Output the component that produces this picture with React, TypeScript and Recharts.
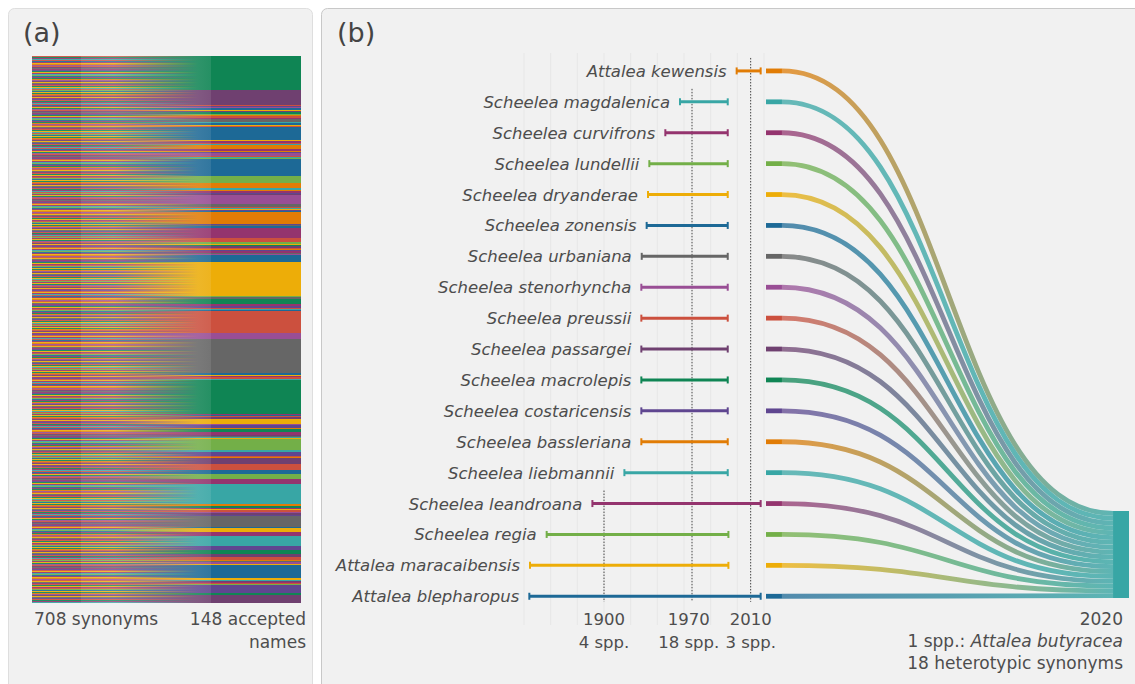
import React from 'react';
import {
  ComposedChart,
  Scatter,
  XAxis,
  YAxis,
  ReferenceLine,
  ReferenceArea,
  LineChart,
  Line,
  Sankey,
} from 'recharts';

const FONT = "'DejaVu Sans', Verdana, sans-serif";
const TEXT = '#4d4d4d';

// CARTOColors "Prism" palette
const PRISM: Record<string, string> = {
  I: '#5F4690', B: '#1D6996', T: '#38A6A5', G: '#0F8554', L: '#73AF48', Y: '#EDAD08',
  O: '#E17C05', R: '#CC503E', M: '#94346E', P: '#6F4070', V: '#994E95', K: '#666666',
};
const PALETTE_KEYS = Object.keys(PRISM);

// ---------- Panel (a): 708 synonyms -> 148 accepted names ----------
const acceptedColorKeys = [
  'G', 'P',
  'R', 'I', 'V', 'B', 'Y', 'P', 'G', 'L', 'R', 'O', 'R', 'M', 'K', 'T', 'B', 'Y', 'R',
  'B',
  'Y', 'M', 'G', 'R', 'T',
  'O',
  'M', 'O', 'I', 'V', 'R', 'T', 'L',
  'B', 'L', 'O',
  'T', 'G', 'O', 'M', 'I', 'P',
  'V',
  'K', 'R', 'T', 'Y', 'I', 'B',
  'O',
  'I', 'K', 'B',
  'M', 'R',
  'L', 'Y', 'G', 'P', 'R', 'O', 'I', 'M', 'K', 'V', 'B',
  'B', 'Y',
  'L', 'K', 'P', 'G', 'M', 'Y', 'I', 'R', 'T', 'B',
  'R', 'V', 'K',
  'B', 'Y', 'M', 'V', 'R', 'T',
  'G',
  'M', 'B', 'R', 'P',
  'Y',
  'V', 'I', 'R', 'O', 'G', 'M', 'P', 'K', 'T', 'Y',
  'L', 'T', 'I', 'R', 'O', 'P', 'R', 'B', 'L', 'M', 'T',
  'O', 'G', 'M', 'Y', 'R', 'V', 'P', 'I', 'L',
  'K', 'B', 'Y', 'M', 'T',
  'I', 'G', 'P', 'M', 'R', 'O', 'K', 'V', 'Y', 'B',
  'B',
  'Y', 'T', 'P', 'M', 'R', 'L',
  'I', 'G', 'P',
];
const acceptedCounts = [
  44, 19,
  2, 1, 1, 3, 1, 2, 2, 1, 1, 1, 2, 2, 3, 2, 2, 1, 2,
  17,
  1, 2, 1, 1, 1,
  5,
  3, 1, 2, 3, 2, 1, 1,
  22, 10, 6,
  2, 1, 1, 2, 1, 2,
  12,
  3, 2, 1, 1, 2, 1,
  16,
  1, 1, 2,
  13, 6,
  2, 1, 2, 3, 1, 1, 2, 2, 1, 1, 3,
  6, 44,
  2, 2, 1, 6, 2, 1, 2, 2, 1, 1,
  28, 8, 44,
  3, 1, 1, 1, 2, 2,
  43,
  2, 1, 1, 3,
  6,
  2, 3, 1, 1, 4, 3, 2, 1, 1, 2,
  14, 2, 6, 1, 1, 8, 8, 5, 7, 6, 26,
  2, 3, 1, 1, 3, 2, 2, 1, 1,
  13, 2, 5, 5, 13,
  5, 5, 4, 1, 3, 1, 2, 3, 1, 3,
  14,
  2, 2, 1, 1, 1, 2,
  10, 3, 10,
];
// colour cycle used for the synonym nodes (style only)
const synonymColorCycle = ['R', 'G', 'Y', 'M', 'T', 'R', 'L', 'B', 'M', 'Y', 'G', 'O', 'V', 'R', 'P', 'Y', 'K', 'M', 'I'];
const synonymsLabel = '708 synonyms';
const acceptedLabel = ['148 accepted', 'names'];

// ---------- Panel (b): Attalea butyracea ----------
const speciesNames = [
  'Attalea kewensis', 'Scheelea magdalenica', 'Scheelea curvifrons', 'Scheelea lundellii',
  'Scheelea dryanderae', 'Scheelea zonensis', 'Scheelea urbaniana', 'Scheelea stenorhyncha',
  'Scheelea preussii', 'Scheelea passargei', 'Scheelea macrolepis', 'Scheelea costaricensis',
  'Scheelea bassleriana', 'Scheelea liebmannii', 'Scheelea leandroana', 'Scheelea regia',
  'Attalea maracaibensis', 'Attalea blepharopus',
];
const speciesColorKeys = ['O', 'T', 'M', 'L', 'Y', 'B', 'K', 'V', 'R', 'P', 'G', 'I', 'O', 'T', 'M', 'L', 'Y', 'B'];
const describedYear = [1999.5, 1957, 1946, 1934, 1933, 1932, 1928.3, 1928, 1928, 1928, 1928, 1928, 1928, 1915.3, 1891.3, 1857, 1844.5, 1844];
const synonymizedYear = [2017.5, 1992.8, 1992.8, 1992.8, 1992.8, 1992.8, 1992.8, 1992.8, 1992.8, 1992.8, 1992.8, 1992.8, 1992.8, 1992.8, 2017.5, 1993.3, 1993.3, 2017.5];
const gridYears = [1840, 1860, 1880, 1900, 1920, 1940, 1960, 1980, 2000, 2020];
const markerYears = [1900, 1966, 2010];
const markerLabelYears = [1900, 1963.5, 2010];
const markerLabels = ['1900', '1970', '2010'];
const markerCounts = ['4 spp.', '18 spp.', '3 spp.'];
const targetKey = 'T';
const targetYearLabel = '2020';
const targetName = 'Attalea butyracea';
const targetCountPrefix = '1 spp.: ';
const targetSynonymsLabel = '18 heterotypic synonyms';

// ---------- layout constants ----------
const ROW_DOMAIN: [number, number] = [-0.58, 17.93];
const BAND_TOP = 14.24; // destination band (row units)
const BAND_BOTTOM = 17.06;
const NODE_END = 0.044;
const TARGET_START = 0.956;
const SYN_W = 49;
const ACC_W = 90;
const LABEL_SIZE = 17;
const TICK_SIZE = 16.5;

// ---------- build sankey data ----------
const totalSyn = acceptedCounts.reduce((a, b) => a + b, 0);
const sankeyNodes: any[] = [];
const sankeyLinks: any[] = [];
{
  let s = 0;
  acceptedCounts.forEach((cnt, k) => {
    for (let j = 0; j < cnt; j++) {
      const sk = synonymColorCycle[s % synonymColorCycle.length];
      sankeyNodes.push({ name: `syn-${s}`, side: 'syn', ck: sk });
      sankeyLinks.push({ source: s, target: totalSyn + k, value: 1, sk, tk: acceptedColorKeys[k] });
      s++;
    }
  });
  acceptedColorKeys.forEach((ck, k) => sankeyNodes.push({ name: `acc-${k}`, side: 'acc', ck }));
}

const SankeyNode = (props: any) => {
  const { x, y, width, height, payload } = props;
  const fill = PRISM[payload.ck];
  if (payload.side === 'syn') {
    return <rect x={x} y={y} width={width} height={height} fill={fill} fillOpacity={0.92} shapeRendering="crispEdges" />;
  }
  return <rect x={x + width - ACC_W} y={y} width={ACC_W} height={height} fill={fill} shapeRendering="crispEdges" />;
};

const SankeyLink = (props: any) => {
  const { sourceX, targetX, sourceY, targetY, linkWidth, payload } = props;
  const tx = targetX - (ACC_W - SYN_W);
  const h = linkWidth / 2;
  const mx = (sourceX + tx) / 2;
  const d = `M${sourceX},${sourceY - h}C${mx},${sourceY - h} ${mx},${targetY - h} ${tx},${targetY - h}L${tx},${targetY + h}C${mx},${targetY + h} ${mx},${sourceY + h} ${sourceX},${sourceY + h}Z`;
  return <path d={d} fill={`url(#lg-${payload.sk}-${payload.tk})`} stroke="none" shapeRendering="crispEdges" />;
};

// ---------- panel (b) helpers ----------
const speciesRows = speciesNames.map((name, r) => {
  const color = PRISM[speciesColorKeys[r]];
  return {
    name,
    color,
    r,
    data: [
      { year: describedYear[r], row: r, side: 'start', name, color },
      { year: synonymizedYear[r], row: r, side: 'end', name, color },
    ],
  };
});

const markerTopRow = markerYears.map((yr) => {
  const idx = speciesRows.findIndex((s, r) => describedYear[r] <= yr && synonymizedYear[r] >= yr);
  return idx - 0.42;
});

const RangeEnd = (props: any) => {
  const { cx, cy, payload } = props;
  if (cx == null || cy == null) return null;
  return (
    <g>
      <line x1={cx} x2={cx} y1={cy - 3.5} y2={cy + 3.5} stroke={payload.color} strokeWidth={2} />
      {payload.side === 'start' && (
        <text x={cx - 10} y={cy + 6} textAnchor="end" fontFamily={FONT} fontSize={16.5} fontStyle="italic" fill={TEXT}>
          {payload.name}
        </text>
      )}
    </g>
  );
};

const TimeTick = (props: any) => {
  const { x, y, payload } = props;
  const i = markerLabelYears.indexOf(payload.value);
  return (
    <text x={x} y={y} textAnchor="middle" fontFamily={FONT} fontSize={TICK_SIZE} fill={TEXT}>
      <tspan x={x} dy={0}>{markerLabels[i]}</tspan>
      <tspan x={x} dy={23}>{markerCounts[i]}</tspan>
    </text>
  );
};

const EndTick = (props: any) => {
  const { x, y } = props;
  const tx = x - 6;
  return (
    <text textAnchor="end" fontFamily={FONT} fontSize={LABEL_SIZE} fill={TEXT}>
      <tspan x={tx} y={y}>{targetYearLabel}</tspan>
      <tspan x={tx} y={y + 22}>
        {targetCountPrefix}
        <tspan fontStyle="italic">{targetName}</tspan>
      </tspan>
      <tspan x={tx} y={y + 44}>{targetSynonymsLabel}</tspan>
    </text>
  );
};

const FLOW_W = 395;
const FLOW_H = 684;
const FLOW_M = { top: 53, right: 6, bottom: 9, left: 26 };
const flowPlotW = FLOW_W - FLOW_M.left - FLOW_M.right;

const linkWidthRows = (BAND_BOTTOM - BAND_TOP) / speciesNames.length;

export default function App() {
  const linkGradients: React.ReactNode[] = [];
  PALETTE_KEYS.forEach((a) =>
    PALETTE_KEYS.forEach((b) =>
      linkGradients.push(
        <linearGradient key={`${a}-${b}`} id={`lg-${a}-${b}`} x1="0" x2="1" y1="0" y2="0">
          <stop offset="0" stopColor={PRISM[a]} stopOpacity={0.82} />
          <stop offset="0.25" stopColor={PRISM[a]} stopOpacity={0.78} />
          <stop offset="0.9" stopColor={PRISM[b]} stopOpacity={0.86} />
          <stop offset="1" stopColor={PRISM[b]} stopOpacity={0.9} />
        </linearGradient>
      )
    )
  );

  return (
    <div style={{ position: 'absolute', left: 0, top: 0, width: 1135, height: 684, background: '#ffffff', overflow: 'hidden' }}>
      <svg width={1135} height={684} style={{ position: 'absolute', left: 0, top: 0 }}>
        <defs>{linkGradients}</defs>
        <rect x={8.5} y={8.5} width={304} height={700} rx={6} fill="#f1f1f1" stroke="#dedede" />
        <rect x={321.5} y={8.5} width={840} height={700} rx={6} fill="#f1f1f1" stroke="#c8c8c8" />
        <text x={23} y={42} fontFamily={FONT} fontSize={27} fill="#444">(a)</text>
        <text x={337} y={42} fontFamily={FONT} fontSize={27} fill="#444">(b)</text>
        <text x={34} y={625} fontFamily={FONT} fontSize={LABEL_SIZE} fill={TEXT}>{synonymsLabel}</text>
        <text x={306} y={625} textAnchor="end" fontFamily={FONT} fontSize={LABEL_SIZE} fill={TEXT}>{acceptedLabel[0]}</text>
        <text x={306} y={648} textAnchor="end" fontFamily={FONT} fontSize={LABEL_SIZE} fill={TEXT}>{acceptedLabel[1]}</text>
      </svg>

      <div style={{ position: 'absolute', left: 32, top: 56 }}>
        <Sankey
          width={269}
          height={547}
          data={{ nodes: sankeyNodes, links: sankeyLinks }}
          nodeWidth={SYN_W}
          nodePadding={0}
          iterations={0}
          sort={false}
          margin={{ top: 0, right: 0, bottom: 0, left: 0 }}
          node={(p: any) => <SankeyNode {...p} />}
          link={(p: any) => <SankeyLink {...p} />}
        />
      </div>

      <div style={{ position: 'absolute', left: 322, top: 0 }}>
        <ComposedChart width={460} height={684} margin={{ top: 53, right: 18, bottom: 9, left: 202 }}>
          <XAxis
            type="number"
            dataKey="year"
            domain={[1840, 2020]}
            ticks={markerLabelYears}
            interval={0}
            tick={<TimeTick />}
            axisLine={false}
            tickLine={false}
            tickSize={0}
            tickMargin={0}
            height={50}
          />
          <YAxis type="number" dataKey="row" domain={ROW_DOMAIN} reversed hide />
          {gridYears.map((yr) => (
            <ReferenceLine key={`g${yr}`} x={yr} stroke="#e7e7e7" strokeWidth={1} />
          ))}
          {markerYears.map((yr, i) => (
            <ReferenceLine
              key={`m${yr}`}
              segment={[{ x: yr, y: markerTopRow[i] }, { x: yr, y: 17.18 }]}
              stroke="#444"
              strokeWidth={1}
              strokeDasharray="1.5 1.5"
            />
          ))}
          {speciesRows.map((s) => (
            <Scatter
              key={s.name}
              data={s.data}
              fill={s.color}
              line={{ stroke: s.color, strokeWidth: 3 }}
              lineType="joint"
              shape={<RangeEnd />}
              isAnimationActive={false}
            />
          ))}
        </ComposedChart>
      </div>

      <div style={{ position: 'absolute', left: 740, top: 0 }}>
        <LineChart width={FLOW_W} height={FLOW_H} margin={FLOW_M}>
          <defs>
            {speciesRows.map((s) => (
              <linearGradient
                key={s.name}
                id={`flow-${s.r}`}
                gradientUnits="userSpaceOnUse"
                x1={FLOW_M.left + NODE_END * flowPlotW}
                x2={FLOW_M.left + TARGET_START * flowPlotW}
                y1={0}
                y2={0}
              >
                <stop offset="0" stopColor={s.color} stopOpacity={0.75} />
                <stop offset="1" stopColor={PRISM[targetKey]} stopOpacity={0.8} />
              </linearGradient>
            ))}
          </defs>
          <XAxis
            type="number"
            dataKey="x"
            domain={[0, 1]}
            ticks={[1]}
            interval={0}
            tick={<EndTick />}
            axisLine={false}
            tickLine={false}
            tickSize={0}
            tickMargin={0}
            height={50}
          />
          <YAxis type="number" dataKey="y" domain={ROW_DOMAIN} reversed hide />
          {speciesRows.map((s) => (
            <Line
              key={`l${s.r}`}
              data={[
                { x: NODE_END, y: s.r },
                { x: TARGET_START, y: BAND_TOP + linkWidthRows * (s.r + 0.5) },
              ]}
              dataKey="y"
              type="bumpX"
              stroke={`url(#flow-${s.r})`}
              strokeWidth={4.8}
              dot={false}
              activeDot={false}
              isAnimationActive={false}
            />
          ))}
          {speciesRows.map((s) => (
            <Line
              key={`n${s.r}`}
              data={[
                { x: 0, y: s.r },
                { x: NODE_END, y: s.r },
              ]}
              dataKey="y"
              type="linear"
              stroke={s.color}
              strokeWidth={4.8}
              dot={false}
              activeDot={false}
              isAnimationActive={false}
            />
          ))}
          <ReferenceArea x1={TARGET_START} x2={1} y1={BAND_TOP} y2={BAND_BOTTOM} fill={PRISM[targetKey]} fillOpacity={1} stroke="none" />
        </LineChart>
      </div>
    </div>
  );
}
